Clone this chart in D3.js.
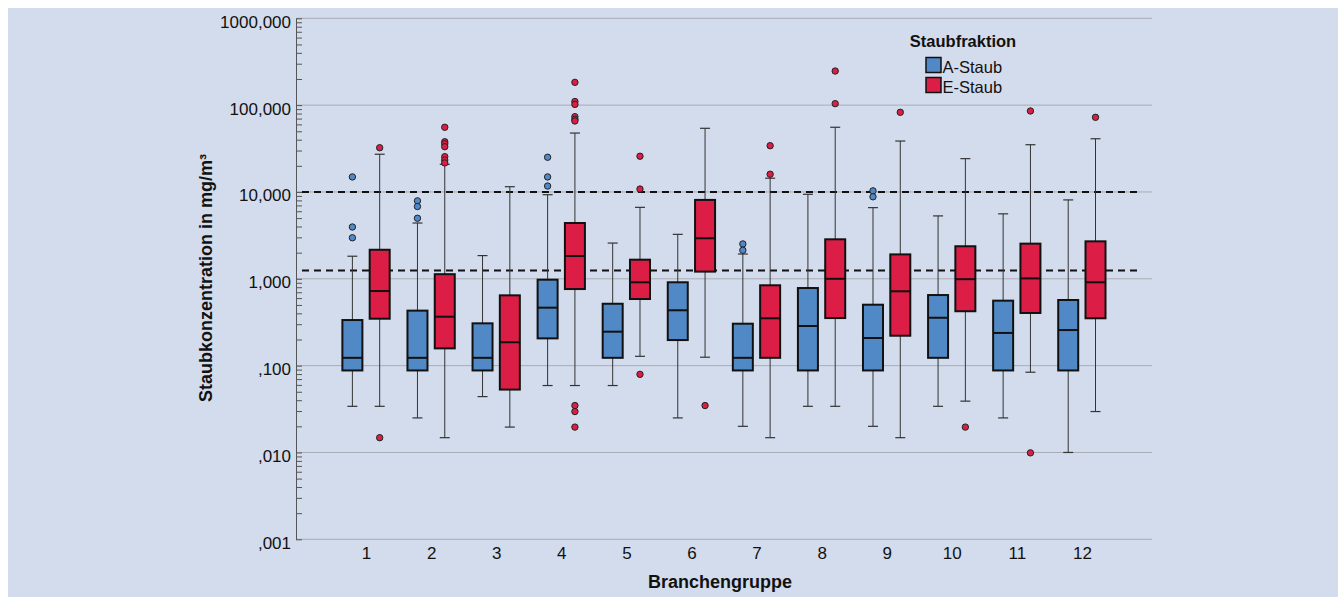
<!DOCTYPE html>
<html>
<head>
<meta charset="utf-8">
<script src="https://cdn.jsdelivr.net/npm/d3@7"></script>
<style>
  html, body { margin: 0; padding: 0; background: #fff; }
  svg { display: block; font-family: Arial, "Liberation Sans", sans-serif; }
</style>
</head>
<body>
<div id="graph"></div>
<script>
// Branchengruppen
const categories = ["1", "2", "3", "4", "5", "6", "7", "8", "9", "10", "11", "12"];

// A-Staub (whisker low, Q1, median, Q3, whisker high, outliers)
const aLow  = [0.034, 0.025, 0.044, 0.059, 0.059, 0.025, 0.020, 0.034, 0.020, 0.034, 0.025, 0.010];
const aQ1   = [0.088, 0.088, 0.088, 0.206, 0.123, 0.197, 0.088, 0.088, 0.088, 0.123, 0.088, 0.088];
const aMed  = [0.123, 0.123, 0.123, 0.465, 0.246, 0.434, 0.123, 0.286, 0.208, 0.356, 0.238, 0.257];
const aQ3   = [0.335, 0.430, 0.307, 0.977, 0.516, 0.912, 0.304, 0.783, 0.503, 0.650, 0.560, 0.570];
const aHigh = [1.82, 4.39, 1.85, 9.3, 2.58, 3.25, 1.93, 9.4, 6.6, 5.3, 5.6, 8.1];
const aOut  = [[14.9, 3.95, 2.97], [7.9, 6.8, 4.98], [], [25.1, 14.9, 11.7], [], [], [2.52, 2.13], [], [10.3, 8.8], [], [], []];

// E-Staub
const eLow  = [0.034, 0.0148, 0.0196, 0.059, 0.128, 0.125, 0.0148, 0.034, 0.0148, 0.039, 0.084, 0.0296];
const eQ1   = [0.347, 0.158, 0.053, 0.762, 0.585, 1.21, 0.123, 0.353, 0.221, 0.423, 0.404, 0.351];
const eMed  = [0.723, 0.366, 0.186, 1.83, 0.912, 2.93, 0.351, 1.00, 0.718, 0.99, 1.01, 0.912];
const eQ3   = [2.16, 1.13, 0.645, 4.39, 1.66, 8.1, 0.842, 2.85, 1.91, 2.37, 2.54, 2.70];
const eHigh = [27.2, 20.8, 11.5, 47.7, 6.65, 54.1, 14.4, 55.6, 38.6, 24.2, 35.0, 41.0];
const eOut  = [[32.3, 0.0148], [55.6, 37.9, 35.9, 33.2, 25.5, 23.3, 21.6], [], [183, 110, 102, 73.6, 68.7, 65.7, 0.0347, 0.0296, 0.0196],
               [25.8, 10.8, 0.0794], [0.0347], [34.1, 16.0], [247, 104], [82.7], [0.0196], [85.6, 0.0099], [72.4]];

const seriesNames = ["A-Staub", "E-Staub"];
const seriesColors = ["#5089c6", "#dc1e46"];

// Grenzwerte (gestrichelt)
const limits = [10, 1.25];

const yTicks = [0.001, 0.01, 0.1, 1, 10, 100, 1000];
const yTickLabels = [",001", ",010", ",100", "1,000", "10,000", "100,000", "1000,000"];

var width = 1338;
var height = 597;

var plotLeft = 296, plotRight = 1152, plotTop = 18.3, plotBottom = 539.3;

var svg = d3.select('#graph')
            .append('svg')
            .attr('width', width)
            .attr('height', height);

svg.append('rect')
   .attr('x', 8)
   .attr('y', 8)
   .attr('width', width - 8)
   .attr('height', height - 8)
   .attr('fill', '#d3dcec');

var y = d3.scaleLog()
          .domain([0.001, 1000])
          .range([plotBottom, plotTop]);

var x = d3.scalePoint()
          .domain(categories)
          .range([plotLeft, plotRight])
          .padding(1.077);

var offset = [-13.7, 13.6];
var boxW = 20, capW = 10;

// gridlines
svg.append('g')
   .selectAll('line')
   .data(yTicks)
   .enter()
   .append('line')
   .attr('x1', plotLeft)
   .attr('x2', plotRight)
   .attr('y1', d => y(d))
   .attr('y2', d => y(d))
   .attr('stroke', '#a8acb4')
   .attr('stroke-width', 1);

// minor ticks
var minor = [];
yTicks.slice(0, -1).forEach(d => { for (var k = 2; k < 10; k++) minor.push(d * k); });

var minorAxis = d3.axisLeft(y)
                  .tickValues(minor)
                  .tickSizeInner(-6)
                  .tickSizeOuter(0)
                  .tickFormat('');

svg.append('g')
   .attr('transform', 'translate(' + plotLeft + ',0)')
   .call(minorAxis)
   .call(g => g.select('.domain').remove())
   .call(g => g.selectAll('line').attr('stroke', '#555'));

var yAxis = d3.axisLeft(y)
              .tickValues(yTicks)
              .tickSizeInner(-6)
              .tickSizeOuter(0)
              .tickPadding(5)
              .tickFormat((d, i) => yTickLabels[i]);

svg.append('g')
   .attr('transform', 'translate(' + plotLeft + ',0)')
   .call(yAxis)
   .call(g => g.select('.domain').attr('stroke', '#555'))
   .call(g => g.selectAll('line').attr('stroke', '#555'))
   .call(g => g.selectAll('text')
               .attr('font-size', 17)
               .attr('fill', '#111')
               .attr('dy', 9)
               .attr('font-family', 'Arial, "Liberation Sans", sans-serif'));

var xAxis = d3.axisBottom(x)
              .tickSize(0)
              .tickPadding(8);

svg.append('g')
   .attr('transform', 'translate(0,' + plotBottom + ')')
   .call(xAxis)
   .call(g => g.select('.domain').remove())
   .call(g => g.selectAll('text')
               .attr('font-size', 17)
               .attr('fill', '#111')
               .attr('font-family', 'Arial, "Liberation Sans", sans-serif'));

// limit lines
svg.append('g')
   .selectAll('line')
   .data(limits)
   .enter()
   .append('line')
   .attr('x1', plotLeft + 6)
   .attr('x2', plotRight - 10)
   .attr('y1', d => y(d))
   .attr('y2', d => y(d))
   .attr('stroke', '#111')
   .attr('stroke-width', 2)
   .attr('stroke-dasharray', '7,5');

// build box table
var boxes = [];
categories.forEach((c, i) => {
  boxes.push({cat: c, s: 0, low: aLow[i], q1: aQ1[i], med: aMed[i], q3: aQ3[i], high: aHigh[i], out: aOut[i]});
  boxes.push({cat: c, s: 1, low: eLow[i], q1: eQ1[i], med: eMed[i], q3: eQ3[i], high: eHigh[i], out: eOut[i]});
});

var bx = d => x(d.cat) + offset[d.s];

var g = svg.append('g')
           .selectAll('g')
           .data(boxes)
           .enter()
           .append('g');

// whiskers
g.append('line')
 .attr('x1', bx).attr('x2', bx)
 .attr('y1', d => y(d.high)).attr('y2', d => y(d.q3))
 .attr('stroke', '#333').attr('stroke-width', 1);

g.append('line')
 .attr('x1', bx).attr('x2', bx)
 .attr('y1', d => y(d.q1)).attr('y2', d => y(d.low))
 .attr('stroke', '#333').attr('stroke-width', 1);

['high', 'low'].forEach(k => {
  g.append('line')
   .attr('x1', d => bx(d) - capW / 2).attr('x2', d => bx(d) + capW / 2)
   .attr('y1', d => y(d[k])).attr('y2', d => y(d[k]))
   .attr('stroke', '#333').attr('stroke-width', 1.2);
});

// boxes
g.append('rect')
 .attr('x', d => bx(d) - boxW / 2)
 .attr('width', boxW)
 .attr('y', d => y(d.q3))
 .attr('height', d => y(d.q1) - y(d.q3))
 .attr('fill', d => seriesColors[d.s])
 .attr('stroke', '#111')
 .attr('stroke-width', 2);

g.append('line')
 .attr('x1', d => bx(d) - boxW / 2).attr('x2', d => bx(d) + boxW / 2)
 .attr('y1', d => y(d.med)).attr('y2', d => y(d.med))
 .attr('stroke', '#111').attr('stroke-width', 2);

// outliers
g.selectAll('circle')
 .data(d => d.out.map(v => ({v: v, d: d})))
 .enter()
 .append('circle')
 .attr('cx', o => bx(o.d))
 .attr('cy', o => y(o.v))
 .attr('r', 3.2)
 .attr('fill', o => seriesColors[o.d.s])
 .attr('stroke', '#222')
 .attr('stroke-width', 1);

// axis titles
svg.append('text')
   .attr('transform', 'translate(212,278) rotate(-90)')
   .attr('text-anchor', 'middle')
   .attr('font-size', 18)
   .attr('font-weight', 'bold')
   .attr('fill', '#111')
   .text('Staubkonzentration in mg/m³');

svg.append('text')
   .attr('x', (plotLeft + plotRight) / 2 - 4)
   .attr('y', 588)
   .attr('text-anchor', 'middle')
   .attr('font-size', 18)
   .attr('font-weight', 'bold')
   .attr('fill', '#111')
   .text('Branchengruppe');

// legend
var legend = svg.append('g');

legend.append('text')
      .attr('x', 963)
      .attr('y', 46.5)
      .attr('text-anchor', 'middle')
      .attr('font-size', 16.5)
      .attr('font-weight', 'bold')
      .attr('fill', '#111')
      .text('Staubfraktion');

var items = legend.selectAll('g')
                  .data(seriesNames)
                  .enter()
                  .append('g')
                  .attr('transform', (d, i) => 'translate(926,' + (57.5 + i * 20) + ')');

items.append('rect')
     .attr('width', 15)
     .attr('height', 15)
     .attr('fill', (d, i) => seriesColors[i])
     .attr('stroke', '#111')
     .attr('stroke-width', 1.5);

items.append('text')
     .attr('x', 16.5)
     .attr('y', 15)
     .attr('font-size', 16.5)
     .attr('fill', '#111')
     .text(d => d);
</script>
</body>
</html>
